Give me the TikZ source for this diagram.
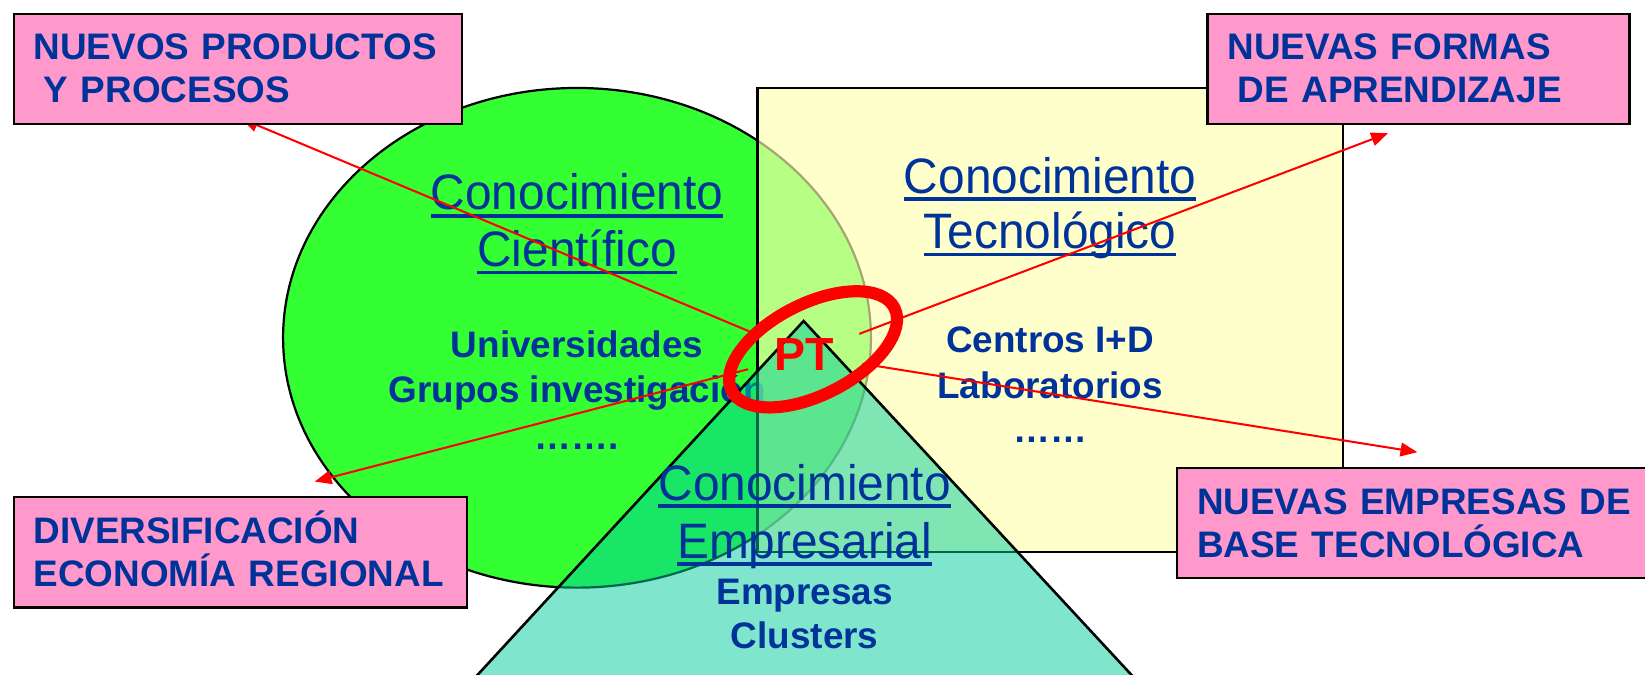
\documentclass[tikz,border=0pt]{standalone}
\usepackage{fontspec}
\setmainfont{Liberation Sans}
\newfontfamily\titulofont[FakeStretch=0.96]{Liberation Sans}
\usepackage{tikz}
\usetikzlibrary{arrows.meta,shapes.geometric}
\definecolor{azul}{RGB}{0,51,153}
\definecolor{rosa}{RGB}{255,153,204}
\definecolor{verde}{RGB}{51,255,51}
\definecolor{amarillo}{RGB}{255,255,176}
\definecolor{turquesa}{RGB}{0,204,153}
\newcommand{\subrayado}[1]{\setbox0\hbox{#1}\rlap{\rule[-2.1pt]{\wd0}{1pt}}\box0}
\newcommand{\estrut}{\rule[-0.07cm]{0pt}{0.38cm}}
\newcommand{\singuion}{\hyphenpenalty=10000\relax}

\begin{document}
\begin{tikzpicture}[x=0.01cm,y=-0.01cm,
	titulo/.style={anchor=base,inner sep=0pt,text=azul,font=\titulofont\fontsize{13.5}{16}\selectfont},
	item/.style={anchor=base,inner sep=0pt,text=azul,font=\bfseries\fontsize{10}{12}\selectfont},
	caja/.style={draw,line width=0.6pt,fill=rosa,anchor=north west,text=azul,align=left,
		inner xsep=0.19cm,inner ysep=0pt,minimum height=1.05cm,
		font=\bfseries\fontsize{10}{11.6}\selectfont\singuion},
	flecha/.style={red,line width=0.55pt,-{Triangle[length=0.16cm,width=0.13cm]}}]
	\useasboundingbox (0,0) rectangle (1568,643);
	\clip (0,0) rectangle (1568,643);

	\draw[fill=verde,line width=0.6pt] (550,322) ellipse [x radius=2.8cm,y radius=2.38cm];
	\node[titulo] (cien1) at (550,200) {\subrayado{Conocimiento}};
	\node[titulo] (cien2) at (550,254) {\subrayado{Científico}};
	\foreach \txt/\yy [count=\i] in {Universidades/341,Grupos investigación/384,……./428}
		\node[item] (cienitem\i) at (550,\yy) {\txt};

	\draw[fill=amarillo,fill opacity=0.65,line width=0.7pt] (722,84) rectangle (1280,526);
	\node[titulo] (tec1) at (1001,184) {\subrayado{Conocimiento}};
	\node[titulo] (tec2) at (1001,237) {\subrayado{Tecnológico}};
	\foreach \txt/\yy [count=\i] in {Centros I+D/336,Laboratorios/380,……/422}
		\node[item] (tecitem\i) at (1001,\yy) {\txt};

	\draw[fill=turquesa,fill opacity=0.5,line width=0.7pt] (403,700) -- (766,306) -- (1131,700) -- cycle;
	\node[titulo] (emp1) at (767,477) {\subrayado{Conocimiento}};
	\node[titulo] (emp2) at (767,532) {\subrayado{Empresarial}};
	\foreach \txt/\yy [count=\i] in {Empresas/576,Clusters/618}
		\node[item] (empitem\i) at (767,\yy) {\txt};

	\node[circle,minimum size=1.1cm,inner sep=0pt,text=red,font=\bfseries\fontsize{12.6}{14}\selectfont] (pt) at (767,338) {PT};
	\coordinate (p1) at (230,113);
	\coordinate (p2) at (1323,127);
	\coordinate (p3) at (1351,431);
	\coordinate (p4) at (300,459);
	\foreach \p in {p1,p2,p3,p4}
		\draw[flecha] (pt) -- (\p);
	\node[draw=red,line width=3.3pt,ellipse,rotate=27,minimum width=1.74cm,minimum height=0.87cm,inner sep=0pt] (anillo) at (775,333) {};

	\node[caja,text width=3.89cm] (prod) at (12,12) {\estrut NUEVOS~PRODUCTOS\\\estrut\hspace*{.28em}Y~PROCESOS};
	\node[caja,text width=3.64cm] (formas) at (1150,12) {\estrut NUEVAS~FORMAS\\\estrut\hspace*{.28em}DE~APRENDIZAJE};
	\node[caja,text width=3.94cm] (divers) at (12,473) {\estrut DIVERSIFICACIÓN\\\estrut ECONOMÍA~REGIONAL};
	\node[caja,text width=4.24cm] (nebt) at (1121,445) {\estrut NUEVAS~EMPRESAS~DE\\\estrut BASE~TECNOLÓGICA};
\end{tikzpicture}
\end{document}
